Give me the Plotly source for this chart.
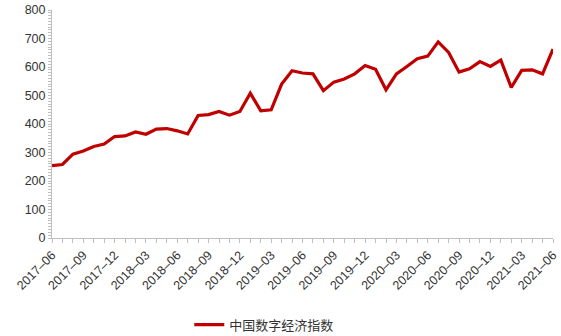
import plotly.graph_objects as go

# Monthly China Digital Economy Index, 2017-06 .. 2021-06
months = [
    "2017-06", "2017-07", "2017-08", "2017-09", "2017-10", "2017-11", "2017-12",
    "2018-01", "2018-02", "2018-03", "2018-04", "2018-05", "2018-06", "2018-07",
    "2018-08", "2018-09", "2018-10", "2018-11", "2018-12", "2019-01", "2019-02",
    "2019-03", "2019-04", "2019-05", "2019-06", "2019-07", "2019-08", "2019-09",
    "2019-10", "2019-11", "2019-12", "2020-01", "2020-02", "2020-03", "2020-04",
    "2020-05", "2020-06", "2020-07", "2020-08", "2020-09", "2020-10", "2020-11",
    "2020-12", "2021-01", "2021-02", "2021-03", "2021-04", "2021-05", "2021-06",
]
index_values = [
    254, 258, 294, 305, 321, 330, 356,
    358, 372, 364, 382, 384, 376, 365,
    430, 433, 444, 431, 444, 508, 446,
    450, 540, 587, 579, 576, 517, 547,
    558, 576, 605, 592, 520, 576, 602,
    629, 638, 688, 651, 582, 594, 619,
    602, 624, 528, 588, 590, 576, 663,
]
series_name = "中国数字经济指数"

# label every third month, tick every month
tick_text = [m.replace("-", "–") if i % 3 == 0 else "" for i, m in enumerate(months)]

fig = go.Figure()
fig.add_trace(go.Scatter(
    x=months, y=index_values, mode="lines", name=series_name,
    line=dict(color="#c00000", width=3.2),
))

axis_grey = "#bfbfbf"
fig.update_layout(
    width=561, height=336,
    margin=dict(l=52, r=8, t=10, b=98, autoexpand=False),
    paper_bgcolor="white", plot_bgcolor="white",
    font=dict(family="Liberation Sans, Arial", color="#333333"),
    showlegend=True,
    legend=dict(
        orientation="h", x=0.274, y=-0.38, xanchor="left", yanchor="middle",
        font=dict(family="Noto Sans CJK SC", size=13, color="#333333"),
        itemwidth=30,
    ),
    xaxis=dict(
        type="category", automargin=False,
        tickmode="array", tickvals=months, ticktext=tick_text,
        tickangle=-45, tickfont=dict(size=12.5),
        showline=True, linecolor=axis_grey, linewidth=1,
        ticks="outside", ticklen=4, tickcolor=axis_grey,
        showgrid=False, zeroline=False,
        range=[0, len(months) - 1],
    ),
    yaxis=dict(
        range=[0, 800], dtick=100, tickfont=dict(size=12.5), automargin=False,
        showline=True, linecolor=axis_grey, linewidth=1,
        ticks="outside", ticklen=3, tickcolor=axis_grey,
        minor=dict(dtick=10, ticks="outside", ticklen=3, tickcolor=axis_grey),
        showgrid=False, zeroline=False,
    ),
)

fig.write_html("out.html")
